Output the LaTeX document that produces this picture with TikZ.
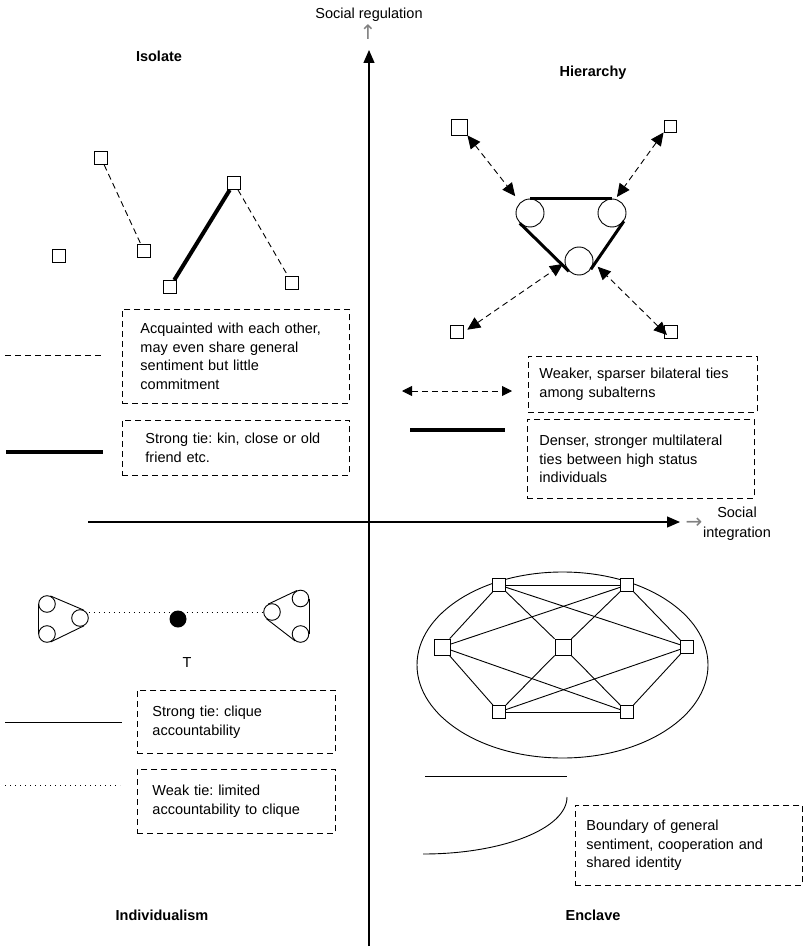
\documentclass[tikz,border=0pt]{standalone}
\usepackage{fontspec}
\setmainfont{Liberation Sans}
\newfontfamily\arrowfont{DejaVu Sans}
\usetikzlibrary{arrows.meta,shapes.geometric,calc}
\begin{document}
\frenchspacing
\begin{tikzpicture}[x=1pt,y=-1pt,
  every node/.style={font=\fontsize{14.5}{18.6}\selectfont},
  sq/.style={draw,rectangle,minimum size=13pt,inner sep=0pt,line width=0.9pt,fill=white},
  hc/.style={draw,circle,minimum size=28pt,inner sep=0pt,line width=0.9pt},
  cc/.style={draw,circle,minimum size=16.6pt,inner sep=0pt,line width=0.9pt},
  thinln/.style={line width=0.9pt},
  dashln/.style={line width=0.9pt,dash pattern=on 6pt off 4pt},
  dotln/.style={line width=1pt,dash pattern=on 1pt off 4pt},
  thickln/.style={line width=4pt},
  hthick/.style={line width=3pt},
  axisln/.style={line width=1.2pt,-{Triangle[length=13pt,width=11pt]}},
  harrow/.style={line width=0.9pt,dash pattern=on 6pt off 4pt,{Triangle[length=13pt,width=12pt]}-{Triangle[length=13pt,width=12pt]}},
  lbox/.style={draw,line width=0.9pt,dash pattern=on 6pt off 4pt,anchor=north west,align=left,inner ysep=0pt},
  head/.style={font=\fontsize{14.5}{18.6}\selectfont\bfseries},
  garrow/.style={text=black!50,inner sep=0pt,font=\arrowfont\fontsize{20}{20}\selectfont}
]
\useasboundingbox (0,0) rectangle (803,949);

% ---------------- axes ----------------
\coordinate (vb) at (369,946);
\coordinate (vt) at (369,50);
\draw[axisln] (vb) -- (vt);
\coordinate (hl) at (88,522);
\coordinate (hr) at (680,522);
\draw[axisln] (hl) -- (hr);
\node (sr) at (369,15) {Social regulation};
\node[garrow] (sru) at (368,32) {↑};
\node[garrow] (sia) at (694,523) {→};
\node[align=center] (si) at (737,524) {Social\\[1pt]integration};

% ---------------- Isolate ----------------
\node[head] (isolate) at (159,56) {Isolate};
\node[sq] (i1) at (101,158) {};
\node[sq] (i2) at (144,251) {};
\node[sq] (i3) at (59,256) {};
\node[sq] (i4) at (170,287) {};
\node[sq] (i5) at (234,183) {};
\node[sq] (i6) at (292,283) {};
\draw[dashln] (i1) -- (i2);
\draw[thickln] (i4) -- (i5);
\draw[dashln] (i5) -- (i6);

\coordinate (ld1) at (5,355);
\coordinate (ld2) at (103,355);
\draw[dashln] (ld1) -- (ld2);
\coordinate (lt1) at (6,452);
\coordinate (lt2) at (103,452);
\draw[thickln] (lt1) -- (lt2);
\node[lbox,text width=191pt,inner xsep=18pt,minimum height=94pt] (b1) at (122,309)
  {Acquainted with each other,\\may even share general\\sentiment but little\\commitment};
\node[lbox,text width=181pt,inner xsep=23pt,minimum height=55pt] (b2) at (122,420)
  {Strong tie: kin, close or old\\friend etc.};

% ---------------- Hierarchy ----------------
\node[head] (hier) at (593,73) {Hierarchy};
\node[hc] (hL) at (530,213) {};
\node[hc] (hR) at (612,213) {};
\node[hc] (hB) at (579,261) {};
\node[sq,minimum size=16pt] (hs1) at (459,127) {};
\node[sq,minimum size=12pt] (hs2) at (670,126) {};
\node[sq] (hs3) at (457,332) {};
\node[sq] (hs4) at (671,332) {};
\draw[hthick] (hL.north) -- (hR.north);
\draw[hthick] (hL.225) -- (hB.225);
\draw[hthick] (hR.325) -- (hB.325);
\draw[harrow,shorten >=8pt] (hs1.south east) -- (hL.133);
\draw[harrow,shorten >=2.5pt] (hs2.south west) -- (hR.76);
\draw[harrow,shorten <=4pt,shorten >=2pt] (hs3.east) -- (hB.187);
\draw[harrow,shorten >=6pt] ([shift={(-4pt,-3pt)}]hs4.center) -- (hB.354);

\coordinate (ha1) at (402,391);
\coordinate (ha2) at (512,391);
\draw[line width=0.9pt,dash pattern=on 6pt off 4pt,{Triangle[length=10pt,width=10pt]}-{Triangle[length=10pt,width=10pt]}] (ha1) -- (ha2);
\coordinate (ht1) at (410,430);
\coordinate (ht2) at (505,430);
\draw[thickln] (ht1) -- (ht2);
\node[lbox,text width=207pt,inner xsep=11pt,minimum height=56pt] (b3) at (528,356)
  {Weaker, sparser bilateral ties\\among subalterns};
\node[lbox,text width=203pt,inner xsep=12pt,minimum height=79pt] (b4) at (527,419)
  {Denser, stronger multilateral\\ties between high status\\individuals};

% ---------------- Individualism ----------------
\node[cc] (lA) at (47,604) {};
\node[cc] (lB) at (47,634) {};
\node[cc] (lC) at (80,618) {};
\draw[thinln] (lA.west) -- (lB.west);
\draw[thinln] (lA.67) -- (lC.67);
\draw[thinln] (lB.296) -- (lC.296);

\node[cc] (rL) at (272,612) {};
\node[cc] (rT) at (300.5,598.5) {};
\node[cc] (rB) at (300.5,634) {};
\draw[thinln] (rT.east) -- (rB.east);
\draw[thinln] (rL.115) -- (rT.115);
\draw[thinln] (rL.232) -- (rB.232);

\node[circle,fill=black,minimum size=17pt,inner sep=0pt] (dot) at (178,619) {};
\node (T) at (187,663) {T};
\draw[dotln] (lC.east |- rL.west) -- (dot.west |- rL.west);
\draw[dotln] (dot.east |- rL.west) -- (rL.west);

\coordinate (is1) at (5,722);
\coordinate (is2) at (122,722);
\draw[thinln] (is1) -- (is2);
\coordinate (iw1) at (5,785);
\coordinate (iw2) at (120,785);
\draw[dotln] (iw1) -- (iw2);
\node[lbox,text width=168pt,inner xsep=15pt,minimum height=63pt] (b5) at (137,690)
  {Strong tie: clique\\accountability};
\node[lbox,text width=168pt,inner xsep=15pt,minimum height=64pt] (b6) at (137,769)
  {Weak tie: limited\\accountability to clique};
\node[head] (indiv) at (162,915) {Individualism};

% ---------------- Enclave ----------------
\node[ellipse,draw,line width=0.9pt,minimum width=291pt,minimum height=186pt,inner sep=0pt] (ell) at (562.5,665) {};
\node[sq] (eTL) at (499,585) {};
\node[sq] (eTR) at (627,585) {};
\node[sq,minimum size=16pt] (eL) at (442,647) {};
\node[sq,minimum size=16pt] (eC) at (563,647) {};
\node[sq] (eR) at (687,647) {};
\node[sq] (eBL) at (499,712) {};
\node[sq] (eBR) at (627,712) {};
\draw[thinln] (eTL) -- (eTR);
\draw[thinln] (eBL) -- (eBR);
\draw[thinln] (eTL) -- (eL);
\draw[thinln] (eTL) -- (eC);
\draw[thinln] (eTL) -- (eR);
\draw[thinln] (eTR) -- (eL);
\draw[thinln] (eTR) -- (eC);
\draw[thinln] (eTR) -- (eR);
\draw[thinln] (eL) -- (eBL);
\draw[thinln] (eL) -- (eBR);
\draw[thinln] (eC) -- (eBL);
\draw[thinln] (eC) -- (eBR);
\draw[thinln] (eR) -- (eBL);
\draw[thinln] (eR) -- (eBR);

\coordinate (el1) at (425,776);
\coordinate (el2) at (567,776);
\draw[thinln] (el1) -- (el2);
\coordinate (ea) at (567,797);
\draw[thinln] (ea) arc[start angle=0,end angle=-90,x radius=144pt,y radius=57pt];
\node[lbox,text width=205pt,inner xsep=11pt,minimum height=80pt] (b7) at (575,805)
  {Boundary of general\\sentiment, cooperation and\\shared identity};
\node[head] (encl) at (593,915) {Enclave};
\end{tikzpicture}
\end{document}
